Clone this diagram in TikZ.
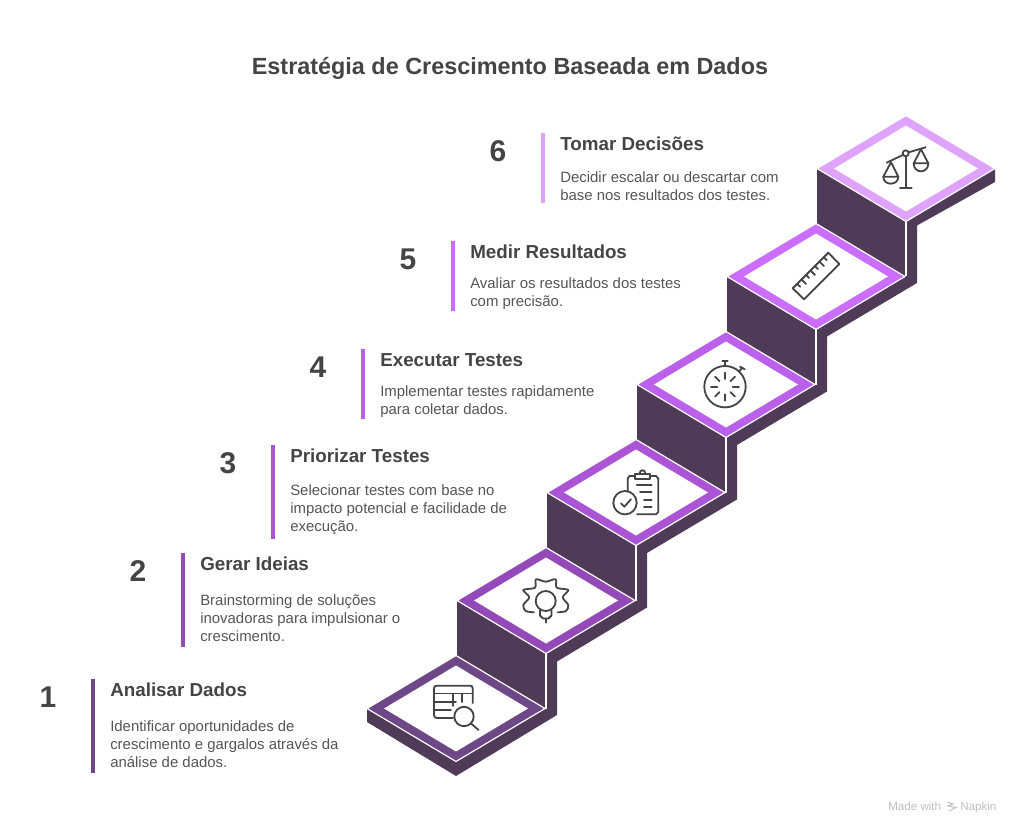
\documentclass[tikz,border=0pt]{standalone}
\usepackage{fontspec}
\setmainfont{Liberation Sans}
\definecolor{stepone}{HTML}{6D4786}
\definecolor{steptwo}{HTML}{9449B8}
\definecolor{stepthree}{HTML}{AB55D6}
\definecolor{stepfour}{HTML}{BB60EB}
\definecolor{stepfive}{HTML}{CB6EFD}
\definecolor{stepsix}{HTML}{DFA3FD}
\definecolor{stairdark}{HTML}{4F3B57}
\definecolor{inkgray}{HTML}{444444}
\definecolor{bodygray}{HTML}{555555}
\tikzset{
  tile/.style={draw=white, line width=0.9pt, line join=round},
  hole/.style={fill=white},
  riser/.style={draw=white, line width=1pt},
  icon/.style={draw=inkgray, line width=1.35pt, line cap=round, line join=round},
  headtext/.style={anchor=west, inner sep=0pt, text=inkgray, font=\fontsize{14.1}{16}\selectfont\bfseries},
  bodytext/.style={anchor=west, inner sep=0pt, align=left, text=bodygray, font=\fontsize{11.2}{13.5}\selectfont},
  numtext/.style={inner sep=0pt, text=inkgray, font=\fontsize{22.5}{26}\selectfont\bfseries},
  marktext/.style={anchor=base west, inner sep=0pt, text=gray!50, font=\fontsize{8.7}{10}\selectfont},
}
\begin{document}
\begin{tikzpicture}[x=0.75pt, y=-0.75pt]
    \useasboundingbox (0,0) rectangle (1021,834);
    % Title
    \node[inner sep=0pt, text=inkgray, font=\fontsize{17.55}{22}\selectfont\bfseries] (title) at (510,68)
          {Estratégia de Crescimento Baseada em Dados};
    % Stair body: one dark outline
    \fill[stairdark] (456,776) -- (367,722) -- (367,708.5) -- (456,655.5)
          -- (457,655) -- (457,600.5) -- (546,547.5)
          -- (547,547) -- (547,492.5) -- (636,439.5)
          -- (637,439) -- (637,384.5) -- (726,331.5)
          -- (727,331) -- (727,276.5) -- (816,223.5)
          -- (817,223) -- (817,168.5) -- (906,115.5) -- (995,168.5)
          -- (995,182) -- (917,225.5) -- (917,283)
          -- (827,336.5) -- (827,391.5) -- (737,445) -- (737,499.5)
          -- (647,553) -- (647,607.5) -- (557,661.5) -- (557,715) -- cycle;
    % Risers
    \draw[riser] (546,653.5) -- (546,708.5);
    \draw[riser] (636,545.5) -- (636,600.5);
    \draw[riser] (726,437.5) -- (726,492.5);
    \draw[riser] (816,329.5) -- (816,384.5);
    \draw[riser] (906,221.5) -- (906,276.5);
    % Tiles
    \filldraw[tile, fill=stepone]   (367,708.5) -- (456,655.5) -- (545,708.5) -- (456,761.5) -- cycle;
    \filldraw[tile, fill=steptwo]   (457,600.5) -- (546,547.5) -- (635,600.5) -- (546,653.5) -- cycle;
    \filldraw[tile, fill=stepthree] (547,492.5) -- (636,439.5) -- (725,492.5) -- (636,545.5) -- cycle;
    \filldraw[tile, fill=stepfour]  (637,384.5) -- (726,331.5) -- (815,384.5) -- (726,437.5) -- cycle;
    \filldraw[tile, fill=stepfive]  (727,276.5) -- (816,223.5) -- (905,276.5) -- (816,329.5) -- cycle;
    \filldraw[tile, fill=stepsix]   (817,168.5) -- (906,115.5) -- (995,168.5) -- (906,221.5) -- cycle;
    \fill[hole] (384,708.5) -- (456,665.5) -- (528,708.5) -- (456,751.5) -- cycle;
    \fill[hole] (474,600.5) -- (546,557.5) -- (618,600.5) -- (546,643.5) -- cycle;
    \fill[hole] (564,492.5) -- (636,449.5) -- (708,492.5) -- (636,535.5) -- cycle;
    \fill[hole] (654,384.5) -- (726,341.5) -- (798,384.5) -- (726,427.5) -- cycle;
    \fill[hole] (744,276.5) -- (816,233.5) -- (888,276.5) -- (816,319.5) -- cycle;
    \fill[hole] (834,168.5) -- (906,125.5) -- (978,168.5) -- (906,211.5) -- cycle;
    % Icon 1: table and magnifier
    \draw[icon] (453,718) -- (437,718) .. controls (435,718) and (434,717) .. (434,715)
          -- (434,688.5) .. controls (434,686.5) and (435,685.7) .. (437,685.7)
          -- (470,685.7) .. controls (472,685.7) and (472.7,686.5) .. (472.7,688.5) -- (472.7,703);
    \draw[icon] (434,693.5) -- (472.7,693.5);
    \draw[icon] (434,701.7) -- (456,701.7);
    \draw[icon] (434,710) -- (451,710);
    \draw[icon] (453,693.5) -- (453,706);
    \draw[icon] (461.7,693.5) -- (461.7,702);
    \draw[icon] (464,716.5) circle[radius=9.7];
    \draw[icon] (471,723.5) -- (478.5,730);
    % Icon 2: gear with bulb
    \draw[icon] plot[smooth] coordinates {(534,612.3) (525.7,611) (523.3,605) (529.3,597.3) (523.3,590) (535,587.7)
          (536,579.3) (545.7,581.7) (555.7,579.3) (556.7,587.7) (568.3,590) (562.7,597.3) (568.3,605) (566,611) (557.7,612.3)};
    \draw[icon] (545.7,601) circle[radius=10];
    \draw[icon] (540,610.5) -- (540,615.5) -- (543,618.5) -- (548.5,618.5) -- (551.5,615.5) -- (551.5,610.5);
    \draw[icon] (545.7,618.5) -- (545.7,622.7);
    % Icon 3: clipboard with check
    \draw[icon] (627.7,491.5) -- (627.7,478.5) -- (629.5,476) -- (635,476);
    \draw[icon] (650,476) -- (656,476) -- (658.3,478.5) -- (658.3,512) -- (656,514.3) -- (637,514.3);
    \draw[icon] (635,473.7) -- (650,473.7) -- (650,479) -- (635,479) -- cycle;
    \draw[icon] (639.5,473.7) .. controls (640,469) and (645,469) .. (645.5,473.7);
    \draw[icon] (636.7,485) -- (651.7,485);
    \draw[icon] (640,492.3) -- (651.7,492.3);
    \draw[icon] (644,500) -- (651.7,500);
    \draw[icon] (644,506.7) -- (651.7,506.7);
    \draw[icon] (625,502.7) circle[radius=11.7];
    \draw[icon] (621,503.3) -- (624.3,506.7) -- (631,499.3);
    % Icon 4: stopwatch
    \draw[icon] (725,386.7) circle[radius=20.7];
    \draw[icon] (725,360.7) -- (725,366);
    \draw[icon] (722.3,360.7) -- (727.7,360.7);
    \draw[icon] (739,371.7) -- (742.3,367.7);
    \draw[icon] (740,366.7) -- (744.7,369.3);
    \draw[icon] (725,372.7) -- (725,379);
    \draw[icon] (725,394.4) -- (725,400.7);
    \draw[icon] (711,386.7) -- (717.3,386.7);
    \draw[icon] (732.7,386.7) -- (739,386.7);
    \draw[icon] (715.1,376.8) -- (719.6,381.3);
    \draw[icon] (730.4,392.1) -- (734.9,396.6);
    \draw[icon] (734.9,376.8) -- (730.4,381.3);
    \draw[icon] (719.6,392.1) -- (715.1,396.6);
    % Icon 5: ruler
    \draw[icon] (792.7,288.3) -- (828.3,252.7) -- (839.3,264) -- (804,299.3) -- cycle;
    \draw[icon] (797.15,283.85) -- ++(3,3);
    \draw[icon] (801.6,279.4) -- ++(4.5,4.5);
    \draw[icon] (806.05,274.95) -- ++(3,3);
    \draw[icon] (810.5,270.5) -- ++(4.5,4.5);
    \draw[icon] (814.95,266.05) -- ++(3,3);
    \draw[icon] (819.4,261.6) -- ++(4.5,4.5);
    \draw[icon] (823.85,257.15) -- ++(3,3);
    % Icon 6: scales
    \draw[icon] (905.7,153.3) circle[radius=3];
    \draw[icon] (886.7,162.7) -- (902.7,155);
    \draw[icon] (908.7,152.3) -- (925.7,147.3);
    \draw[icon] (905.7,156.5) -- (905.7,188.3);
    \draw[icon] (900,188.3) -- (911.7,188.3);
    \draw[icon] (883.3,176.7) -- (891,162.3) -- (898.3,176.7) -- cycle;
    \draw[icon] (883.3,176.7) .. controls (883.3,186) and (898.3,186) .. (898.3,176.7);
    \draw[icon] (913.7,163.3) -- (921,149.3) -- (928.3,163.3) -- cycle;
    \draw[icon] (913.7,163.3) .. controls (913.7,174) and (928.3,174) .. (928.3,163.3);
    % Side bars
    \fill[stepone]   (91,679) rectangle (95,773);
    \fill[steptwo]   (181,553) rectangle (185,647);
    \fill[stepthree] (271,445) rectangle (275,539);
    \fill[stepfour]  (361,349) rectangle (365,419);
    \fill[stepfive]  (451,241) rectangle (455,311);
    \fill[stepsix]   (541,133) rectangle (545,203);
    % Numbers
    \node[numtext] (numone)   at (48,697)  {1};
    \node[numtext] (numtwo)   at (138,571) {2};
    \node[numtext] (numthree) at (228,463) {3};
    \node[numtext] (numfour)  at (318,367) {4};
    \node[numtext] (numfive)  at (408,259) {5};
    \node[numtext] (numsix)   at (498,151) {6};
    % Headings
    \node[headtext] (headone)   at (110,690) {Analisar Dados};
    \node[headtext] (headtwo)   at (200,564) {Gerar Ideias};
    \node[headtext] (headthree) at (290,456) {Priorizar Testes};
    \node[headtext] (headfour)  at (380,360) {Executar Testes};
    \node[headtext] (headfive)  at (470,252) {Medir Resultados};
    \node[headtext] (headsix)   at (560,144) {Tomar Decisões};
    % Descriptions
    \node[bodytext] (bodyone)   at (110,744) {Identificar oportunidades de\\crescimento e gargalos através da\\análise de dados.};
    \node[bodytext] (bodytwo)   at (200,618) {Brainstorming de soluções\\inovadoras para impulsionar o\\crescimento.};
    \node[bodytext] (bodythree) at (290,510) {Selecionar testes com base no\\impacto potencial e facilidade de\\execução.};
    \node[bodytext] (bodyfour)  at (380,402) {Implementar testes rapidamente\\para coletar dados.};
    \node[bodytext] (bodyfive)  at (470,294) {Avaliar os resultados dos testes\\com precisão.};
    \node[bodytext] (bodysix)   at (560,186) {Decidir escalar ou descartar com\\base nos resultados dos testes.};
    % Footer mark
    \node[marktext] (madewith) at (888,810) {Made with};
    \node[marktext] (napkin) at (960,810) {Napkin};
    \draw[gray!50, line width=0.8pt] (947,802) -- (953,804) -- (948,806) -- (956,807.5) -- (949,811);
\end{tikzpicture}
\end{document}
